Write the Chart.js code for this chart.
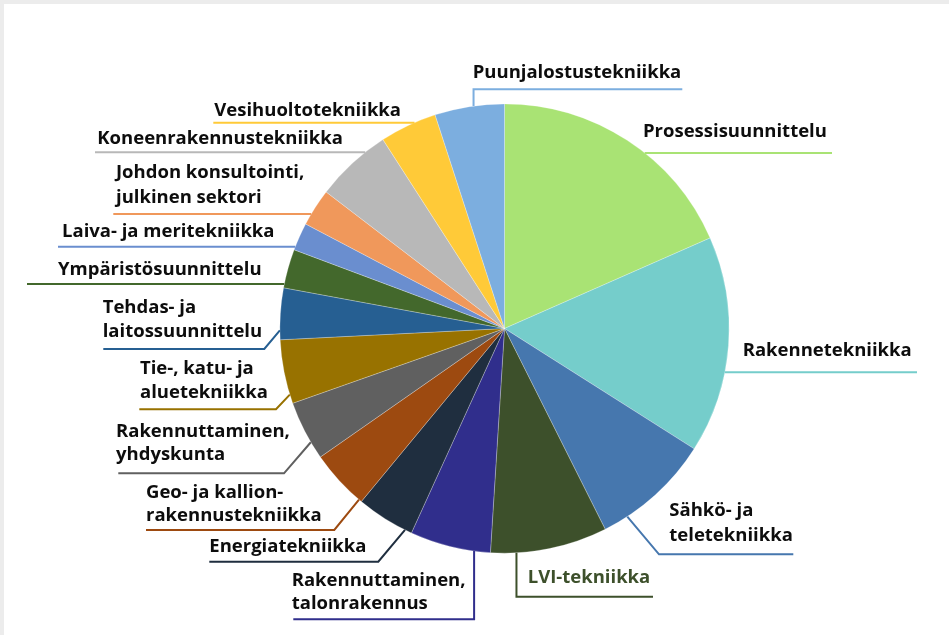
<!DOCTYPE html>
<html lang="fi">
<head>
<meta charset="UTF-8">
<title>Toimialat</title>
<script src="https://cdn.jsdelivr.net/npm/chart.js"></script>
<style>
  html, body { margin:0; padding:0; background:#ececec; }
  .panel { position:absolute; left:4px; top:4px; width:945px; height:631px; background:#fff; }
  canvas { display:block; }
</style>
</head>
<body>
<div class="panel"><canvas id="pie" width="945" height="631"></canvas></div>
<script>
// data
const categories = [
  'Prosessisuunnittelu',
  'Rakennetekniikka',
  ['Sähkö- ja', 'teletekniikka'],
  'LVI-tekniikka',
  ['Rakennuttaminen,', 'talonrakennus'],
  'Energiatekniikka',
  ['Geo- ja kallion-', 'rakennustekniikka'],
  ['Rakennuttaminen,', 'yhdyskunta'],
  ['Tie-, katu- ja', 'aluetekniikka'],
  ['Tehdas- ja', 'laitossuunnittelu'],
  'Ympäristösuunnittelu',
  'Laiva- ja meritekniikka',
  ['Johdon konsultointi,', 'julkinen sektori'],
  'Koneenrakennustekniikka',
  'Vesihuoltotekniikka',
  'Puunjalostustekniikka'
];
const shares = [18.4, 15.6, 8.6, 8.4, 5.8, 4.2, 4.3, 4.3, 4.6, 3.7, 2.8, 2.0, 2.7, 5.5, 4.1, 5.0];
const colors = ['#a9e374','#75cdcb','#4677ae','#3d502b','#302e8c','#1f2e3f','#9d4a10','#606060',
                '#987200','#265f92','#43682c','#6a8ecf','#f0985b','#b8b8b8','#ffca38','#7caedf'];

// label placement, px relative to pie centre
// h = underline runs to pie edge, v = vertical leader, d = diagonal leader
const labelPos = [
  {kind:'h', far:327.5, uy:-175.5, tx:138.5, base:[-191.5]},
  {kind:'h', far:412.5, uy:43.8, tx:238.2, base:[27.5]},
  {kind:'d', frac:0.79, near:154.5, far:288.8, uy:225.8, tx:164.8, base:[187.5,212.2]},
  {kind:'v', frac:0.78, far:148.5, uy:268.2, tx:23.2, base:[254.2], tint:true},
  {kind:'v', frac:0.2, far:-211.2, uy:290.8, tx:-212.8, base:[257.5,280.8]},
  {kind:'d', frac:0.12, near:-126.2, far:-295.2, uy:233.2, tx:-295.2, base:[223.2]},
  {kind:'d', frac:0.05, near:-170.2, far:-358.5, uy:201.5, tx:-358.5, base:[169.8,192.2]},
  {kind:'d', frac:0.29, near:-220.5, far:-386.2, uy:144.8, tx:-388.5, base:[108.2,131.5]},
  {kind:'d', frac:0.14, near:-228.5, far:-365.2, uy:80.8, tx:-364.5, base:[45.5,69.8]},
  {kind:'d', frac:0.18, near:-240.2, far:-401.2, uy:20.5, tx:-401.8, base:[-15.2,8.8]},
  {kind:'h', far:-477.5, uy:-44.5, tx:-446.5, base:[-53.5]},
  {kind:'h', far:-446.5, uy:-81.8, tx:-442.5, base:[-91.2]},
  {kind:'h', far:-391.2, uy:-114.5, tx:-388.5, base:[-150.2,-125.8]},
  {kind:'h', far:-409.5, uy:-176.2, tx:-407.2, base:[-184.2]},
  {kind:'h', far:-291.2, uy:-205.8, tx:-290.2, base:[-212.8]},
  {kind:'v', frac:0.56, far:177.8, uy:-239.2, tx:-31.8, base:[-250.2]}
];
const FONT = 'bold 18.5px "Open Sans"';

const outsideLabels = {
  id: 'outsideLabels',
  afterDatasetsDraw(chart) {
    const ctx = chart.ctx;
    const arcs = chart.getDatasetMeta(0).data;
    const cx = arcs[0].x, cy = arcs[0].y, r = arcs[0].outerRadius;
    ctx.save();
    ctx.lineWidth = 2;
    ctx.font = FONT;
    ctx.textBaseline = 'alphabetic';
    ctx.textAlign = 'left';
    arcs.forEach((arc, i) => {
      const p = labelPos[i];
      const y = cy + p.uy;
      const pts = [];
      if (p.kind === 'h') {
        const dx = Math.sqrt(r * r - p.uy * p.uy);
        pts.push([cx + (p.far > 0 ? dx : -dx), y]);
      } else {
        const a = arc.startAngle + (arc.endAngle - arc.startAngle) * p.frac;
        const ax = cx + r * Math.cos(a), ay = cy + r * Math.sin(a);
        pts.push([ax, ay]);
        pts.push([p.kind === 'v' ? ax : cx + p.near, y]);
      }
      pts.push([cx + p.far, y]);
      ctx.strokeStyle = colors[i];
      ctx.beginPath();
      pts.forEach((q, k) => k ? ctx.lineTo(q[0], q[1]) : ctx.moveTo(q[0], q[1]));
      ctx.stroke();

      ctx.fillStyle = p.tint ? colors[i] : '#0d0d0d';
      [].concat(categories[i]).forEach((line, k) => {
        ctx.fillText(line, cx + p.tx, cy + p.base[k]);
      });
    });
    ctx.restore();
  }
};

new Chart(document.getElementById('pie').getContext('2d'), {
  type: 'pie',
  data: {
    labels: categories,
    datasets: [{
      data: shares,
      backgroundColor: colors,
      borderColor: 'rgba(255,255,255,0.35)',
      borderWidth: 0.75
    }]
  },
  options: {
    responsive: false,
    animation: false,
    layout: { padding: { left: 275.5, top: 99.5, right: 219.5, bottom: 81.5 } },
    plugins: { legend: { display: false }, tooltip: { enabled: false } }
  },
  plugins: [outsideLabels]
});
</script>
</body>
</html>
